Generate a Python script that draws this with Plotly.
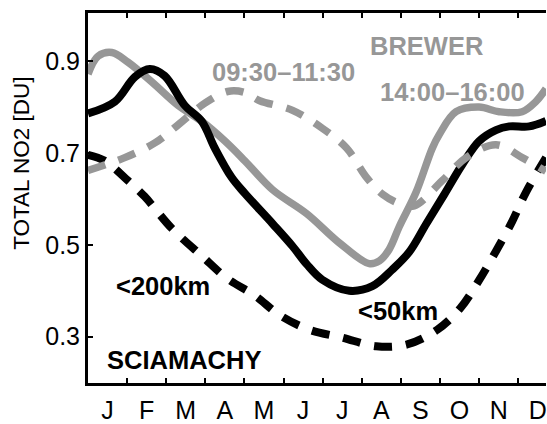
import plotly.graph_objects as go

months = ["J", "F", "M", "A", "M", "J", "J", "A", "S", "O", "N", "D"]
month_pos = list(range(1, 13))
month_edges = [m + 0.5 for m in range(1, 12)]
y_ticks = [0.3, 0.5, 0.7, 0.9]
y_ticktext = ["0.3", "0.5", "0.7", "0.9"]

# SCIAMACHY <50km (black solid)
sc50_x = [0.5, 1.19, 1.70, 2.08, 2.46, 2.97, 3.41, 3.74, 4.17, 4.51, 5.22, 5.73, 6.09, 6.49,
          7.18, 7.77, 8.28, 8.71, 9.15, 9.61, 10.07, 10.5, 10.93, 11.27, 11.78, 12.21]
sc50_y = [0.786, 0.812, 0.866, 0.883, 0.868, 0.804, 0.769, 0.711, 0.647, 0.612, 0.546, 0.497,
          0.458, 0.424, 0.400, 0.410, 0.446, 0.484, 0.546, 0.610, 0.675, 0.726, 0.750, 0.758,
          0.758, 0.770]

# SCIAMACHY <200km (black dashed)
sc200_x = [0.5, 0.93, 1.52, 1.95, 2.64, 3.41, 4.07, 4.76, 5.40, 6.16, 7.0, 7.87, 8.66, 9.43,
           10.02, 10.5, 10.93, 11.34, 11.70, 12.21]
sc200_y = [0.696, 0.683, 0.640, 0.605, 0.536, 0.476, 0.426, 0.390, 0.347, 0.315, 0.298, 0.279,
           0.283, 0.315, 0.362, 0.423, 0.486, 0.550, 0.615, 0.690]

# BREWER 14:00-16:00 (gray solid)
br14_x = [0.5, 0.76, 1.11, 1.52, 2.13, 2.80, 3.41, 4.0, 4.51, 5.22, 6.09, 6.93, 7.69, 7.95,
          8.2, 8.46, 8.89, 9.30, 9.48, 9.91, 10.5, 11.01, 11.6, 11.95, 12.21]
br14_y = [0.872, 0.911, 0.919, 0.898, 0.855, 0.804, 0.769, 0.726, 0.683, 0.620, 0.568, 0.504,
          0.459, 0.465, 0.490, 0.540, 0.615, 0.710, 0.740, 0.790, 0.800, 0.790, 0.790, 0.812,
          0.840]

# BREWER 09:30-11:30 (gray dashed)
br09_x = [0.5, 1.44, 2.21, 2.80, 3.48, 4.07, 4.5, 4.89, 5.73, 6.49, 7.11, 7.62, 8.03, 8.46,
          8.84, 9.56, 10.17, 10.93, 11.6, 12.21]
br09_y = [0.662, 0.690, 0.722, 0.761, 0.808, 0.834, 0.832, 0.814, 0.793, 0.754, 0.711, 0.647,
          0.610, 0.590, 0.585, 0.640, 0.690, 0.718, 0.690, 0.660]

GRAY = "#979797"
BLACK = "#000000"
X_RANGE = [0.5, 12.21]

fig = go.Figure()
fig.add_trace(go.Scatter(x=br09_x, y=br09_y, mode="lines", xaxis="x2", yaxis="y",
                         line=dict(color=GRAY, width=7.5, dash="18px,14px", shape="spline", smoothing=1.0)))
fig.add_trace(go.Scatter(x=sc200_x, y=sc200_y, mode="lines",
                         line=dict(color=BLACK, width=8, dash="18px,14px", shape="spline", smoothing=1.0)))
fig.add_trace(go.Scatter(x=br14_x, y=br14_y, mode="lines",
                         line=dict(color=GRAY, width=7.5, shape="spline", smoothing=1.0)))
fig.add_trace(go.Scatter(x=sc50_x, y=sc50_y, mode="lines",
                         line=dict(color=BLACK, width=8, shape="spline", smoothing=1.0)))

FONT = "Liberation Sans, Arial, Helvetica, sans-serif"

annots = [
    ("BREWER", 7.69, 0.934, GRAY),
    ("09:30\u201311:30", 3.64, 0.876, GRAY),
    ("14:00\u201316:00", 7.93, 0.834, GRAY),
    ("<200km", 1.19, 0.411, BLACK),
    ("<50km", 7.39, 0.356, BLACK),
    ("SCIAMACHY", 0.96, 0.249, BLACK),
]
for text, ax, ay, col in annots:
    fig.add_annotation(x=ax, y=ay, xref="x", yref="y", text="<b>%s</b>" % text,
                       showarrow=False, xanchor="left", yanchor="middle",
                       font=dict(family=FONT, size=25.5, color=col), borderpad=0)

# y-axis title placed as rotated text
fig.add_annotation(x=-0.145, y=0.594, xref="paper", yref="paper", text="TOTAL NO2 [DU]",
                   textangle=-90, showarrow=False, xanchor="center", yanchor="middle",
                   font=dict(family=FONT, size=22.5, color="black"))

fig.update_layout(
    width=547, height=424,
    margin=dict(l=88, r=0, t=13, b=35),
    paper_bgcolor="white", plot_bgcolor="white",
    showlegend=False,
    font=dict(family=FONT, color="black"),
    xaxis2=dict(
        range=X_RANGE, overlaying="x", side="top", anchor="y",
        showgrid=False, zeroline=False, showline=False,
        tickmode="array", tickvals=month_edges, ticktext=[""] * len(month_edges),
        ticks="inside", ticklen=5, tickwidth=2, tickcolor="black",
    ),
)
fig.update_xaxes(
    selector=dict(anchor="y", overlaying=None),
)
fig.layout.xaxis.update(
    range=X_RANGE, showgrid=False, zeroline=False,
    showline=True, linecolor="black", linewidth=3, mirror=True,
    tickmode="array", tickvals=month_pos, ticktext=months, ticks="",
    ticklabeloverflow="allow", ticklabelstandoff=3,
    tickfont=dict(family=FONT, size=25, color="black"),
    minor=dict(tickmode="array", tickvals=month_edges, ticks="inside", ticklen=5,
               tickwidth=2, tickcolor="black", showgrid=False),
)
fig.update_yaxes(
    range=[0.199, 1.005], showgrid=False, zeroline=False,
    showline=True, linecolor="black", linewidth=3, mirror=False,
    tickmode="array", tickvals=y_ticks, ticktext=y_ticktext,
    ticks="inside", ticklen=5, tickwidth=2, tickcolor="black",
    tickfont=dict(family=FONT, size=25, color="black"),
)

fig.write_html("out.html")
